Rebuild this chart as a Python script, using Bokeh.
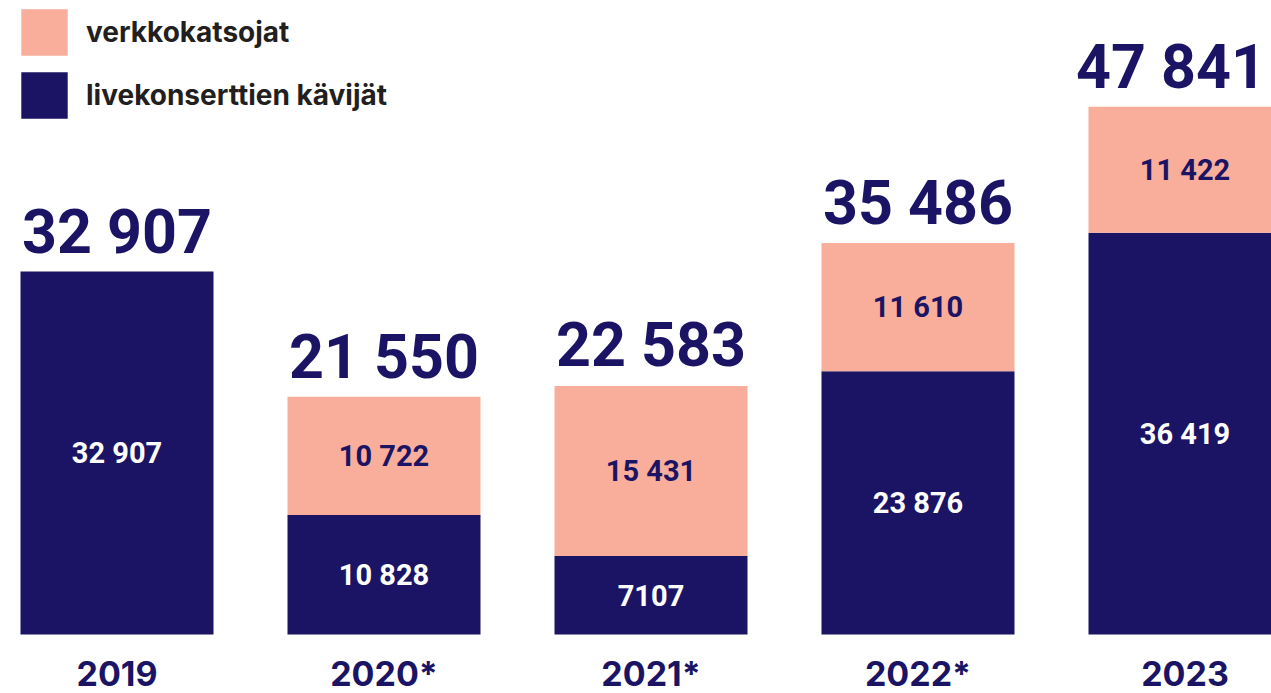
from bokeh.plotting import figure
from bokeh.models import ColumnDataSource, Range1d, Legend, LegendItem
from bokeh.core.properties import value
from bokeh.embed import file_html
from bokeh.resources import INLINE

years = ["2019", "2020*", "2021*", "2022*", "2023"]
live = [32907, 10828, 7107, 23876, 36419]
online = [0, 10722, 15431, 11610, 11422]
totals = [32907, 21550, 22583, 35486, 47841]
series_labels = ["livekonserttien kävijät", "verkkokatsojat"]

NAVY = "#1b1464"
PINK = "#f8ae9b"


def fmt(v):
    return f"{v:,}".replace(",", " ") if v >= 10000 else str(v)


W, H = 1271, 693
step = 267.0          # px per category
x0 = -116.5 / step    # left edge of the view in category units
scale = 0.01103       # px per unit on the value axis
base = 59             # px from bottom to the zero line

# keep the last big total inside the canvas
tot_shift = [0, 0, 0, 0, -14]

xs = list(range(len(years)))
src = ColumnDataSource(dict(
    x=xs, year=years, live=live, online=online, total=totals,
    live_mid=[v / 2 for v in live],
    online_mid=[l + o / 2 for l, o in zip(live, online)],
    live_lbl=[fmt(v) for v in live],
    online_lbl=[fmt(v) if v else "" for v in online],
    total_lbl=[fmt(v) for v in totals],
    zero=[0] * len(years),
    tshift=tot_shift,
))

p = figure(width=W, height=H, output_backend="svg", toolbar_location=None,
           x_axis_type=None, y_axis_type=None, min_border=0,
           x_range=Range1d(x0, x0 + W / step),
           y_range=Range1d(-base / scale, (H - base) / scale))
p.outline_line_color = None
p.grid.visible = False
p.background_fill_color = "white"
p.border_fill_color = "white"

rs = p.vbar_stack(["live", "online"], x="x", width=193 / step, source=src,
                  color=[NAVY, PINK], line_color=None)

p.text(x="x", y="total", text="total_lbl", source=src, text_align="center",
       text_baseline="middle", y_offset=-40, x_offset="tshift", text_color=NAVY,
       text_font=value("Roboto"), text_font_style="bold", text_font_size="61px")
p.text(x="x", y="live_mid", text="live_lbl", source=src, text_align="center",
       text_baseline="middle", text_color="white",
       text_font=value("Roboto"), text_font_style="bold", text_font_size="29px")
p.text(x="x", y="online_mid", text="online_lbl", source=src, text_align="center",
       text_baseline="middle", text_color=NAVY,
       text_font=value("Roboto"), text_font_style="bold", text_font_size="29px")
p.text(x="x", y="zero", text="year", source=src, text_align="center",
       text_baseline="middle", y_offset=39, text_color=NAVY,
       text_font=value("Inter"), text_font_style="bold", text_font_size="34px")

gh = 58
sp = 5
leg_h = 2 * gh + sp
legend = Legend(items=[LegendItem(label=series_labels[1], renderers=[rs[1]]),
                       LegendItem(label=series_labels[0], renderers=[rs[0]])],
                location=(15, H - 3 - leg_h),
                glyph_width=gh, glyph_height=gh, spacing=sp, padding=0,
                margin=0, label_standoff=13, border_line_color=None,
                background_fill_alpha=0, label_text_font="Inter",
                label_text_font_style="bold", label_text_font_size="28px",
                label_text_color="#231f20", label_text_baseline="middle")
p.add_layout(legend, "center")

open("out.html", "w").write(file_html(p, INLINE))
